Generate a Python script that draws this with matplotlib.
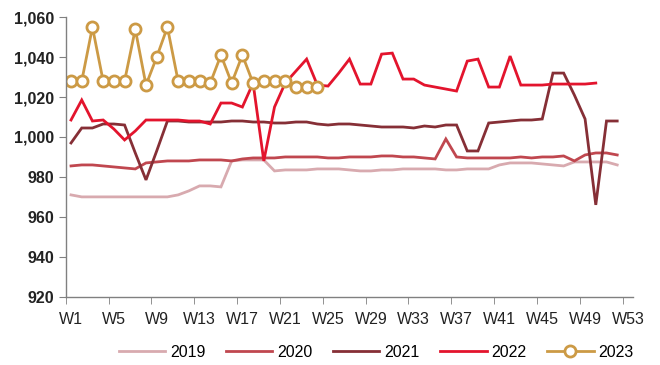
import matplotlib.pyplot as plt
import numpy as np

weeks = np.arange(1, 54)
tick_weeks = list(range(1, 54, 4))
tick_labels = ["W%d" % w for w in tick_weeks]

y2019 = [971, 970, 970, 970, 970, 970, 970, 970, 970, 970, 971, 973, 975.5,
         975.5, 975, 988, 988.5, 988.5, 988.5, 983, 983.5, 983.5, 983.5, 984,
         984, 984, 983.5, 983, 983, 983.5, 983.5, 984, 984, 984, 984, 983.5,
         983.5, 984, 984, 984, 986, 987, 987, 987, 986.5, 986, 985.5, 987.5,
         987.5, 987.5, 987.5, 986]
y2020 = [985.5, 986, 986, 985.5, 985, 984.5, 984, 987, 987.5, 988, 988, 988,
         988.5, 988.5, 988.5, 988, 989, 989.5, 989.5, 989.5, 990, 990, 990,
         990, 989.5, 989.5, 990, 990, 990, 990.5, 990.5, 990, 990, 989.5, 989,
         999, 990, 989.5, 989.5, 989.5, 989.5, 989.5, 990, 989.5, 990, 990,
         990.5, 988, 991, 992, 992, 991]
y2021 = [997, 1004.5, 1004.5, 1006.5, 1006.5, 1006, 992, 978.5, 993, 1008,
         1008, 1007.5, 1007.5, 1007.5, 1007.5, 1008, 1008, 1007.5, 1007.5,
         1007, 1007, 1007.5, 1007.5, 1006.5, 1006, 1006.5, 1006.5, 1006,
         1005.5, 1005, 1005, 1005, 1004.5, 1005.5, 1005, 1006, 1006, 993, 993,
         1007, 1007.5, 1008, 1008.5, 1008.5, 1009, 1032, 1032, 1021, 1009,
         966, 1008, 1008]
y2022 = [1008.5, 1018.5, 1008, 1008.5, 1004, 998.5, 1003, 1008.5, 1008.5,
         1008.5, 1008.5, 1008, 1008, 1006.5, 1017, 1017, 1015, 1027, 988,
         1015, 1027, 1033, 1039, 1026, 1025.5, 1032, 1039, 1026.5, 1026.5,
         1041.5, 1042, 1029, 1029, 1026, 1025, 1024, 1023, 1038, 1039, 1025,
         1025, 1040.5, 1026, 1026, 1026, 1026.5, 1026.5, 1026.5, 1026.5, 1027]
y2023 = [1028, 1028, 1055, 1028, 1028, 1028, 1054, 1026, 1040, 1055, 1028,
         1028, 1028, 1027, 1041, 1027, 1041, 1027, 1028, 1028, 1028, 1025,
         1025, 1025]

series = [("2019", y2019, "#D8AAAF"),
          ("2020", y2020, "#C0474F"),
          ("2021", y2021, "#862F36"),
          ("2022", y2022, "#E3142D")]

plt.rcParams['font.family'] = ['Liberation Sans Narrow', 'Liberation Sans', 'DejaVu Sans']

fig = plt.figure(figsize=(6.6, 3.65), dpi=100)
ax = fig.add_axes([0.0995, 0.187, 0.8600, 0.766])

for name, vals, col in series:
    ax.plot(weeks[:len(vals)], vals, color=col, lw=2.0, label=name,
            solid_joinstyle='miter')
ax.plot(weeks[:len(y2023)], y2023, color="#CC9A45", lw=2.0, marker='o',
        ms=8, mfc='white', mec="#CC9A45", mew=2.0, label="2023")

ax.set_xlim(0.5, 53.5)
ax.set_ylim(920, 1060)
ax.set_yticks(np.arange(920, 1061, 20))
ax.set_yticklabels(["{:,}".format(v) for v in range(920, 1061, 20)],
                   fontsize=11.5, fontweight='bold', color='#222222')

# labels sit on the week, tick marks sit on the category edge
ax.set_xticks(tick_weeks)
ax.set_xticklabels(tick_labels, fontsize=11.5, color='#222222')
ax.set_xticks([w - 0.5 for w in tick_weeks], minor=True)
ax.tick_params(axis='x', which='major', length=0, pad=11)
ax.tick_params(axis='x', which='minor', length=5, color='#808080')
ax.tick_params(axis='y', length=5, color='#808080', pad=3)

for s in ['top', 'right']:
    ax.spines[s].set_visible(False)
for s in ['left', 'bottom']:
    ax.spines[s].set_color('#808080')
    ax.spines[s].set_linewidth(1.0)

fig.legend(loc='center', bbox_to_anchor=(0.570, 0.034), ncol=5, frameon=False,
           fontsize=11.5, handlelength=2.9, handletextpad=0.3,
           columnspacing=1.3)

fig.savefig("out.png", dpi=100)
